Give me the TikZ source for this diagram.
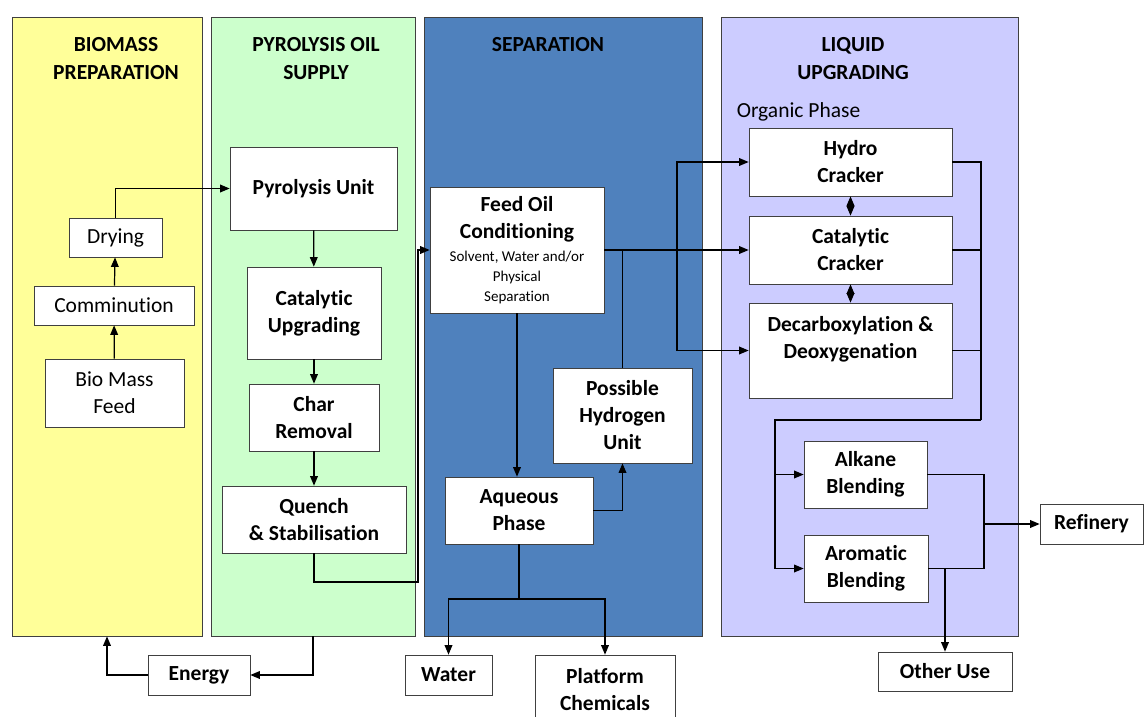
\documentclass[tikz,border=0pt]{standalone}
\usepackage{fontspec}
\setmainfont{Carlito}[Ligatures={NoCommon}]
\usepackage{tikz}
\usetikzlibrary{arrows,positioning}

\definecolor{prepcol}{HTML}{FFFF99}
\definecolor{supplycol}{HTML}{CCFFCC}
\definecolor{sepcol}{HTML}{4F81BD}
\definecolor{upgcol}{HTML}{CCCCFF}
\definecolor{edgecol}{HTML}{404040}

\begin{document}
\begin{tikzpicture}
	[x=1pt,y=-1pt,>=triangle 45,line width=1.2pt,
		panel/.style={draw=edgecol,line width=0.8pt,inner sep=0pt},
		title/.style={font=\fontsize{21.5}{28}\selectfont\bfseries,align=center,inner sep=0pt},
		unit/.style={draw=edgecol,fill=white,line width=0.8pt,align=center,inner sep=0pt,font=\fontsize{21.5}{27}\selectfont\bfseries},
		plain unit/.style={unit,font=\fontsize{21.5}{27}\selectfont}]

	\useasboundingbox (0,0) rectangle (1144,716);

	% stage panels
	\node[panel,fill=prepcol,minimum width=190,minimum height=619]   (prep)   at (107,326.5) {};
	\node[panel,fill=supplycol,minimum width=204,minimum height=619] (supply) at (313,326.5) {};
	\node[panel,fill=sepcol,minimum width=278,minimum height=619]    (sep)    at (563,326.5) {};
	\node[panel,fill=upgcol,minimum width=297,minimum height=619]    (upg)    at (869.5,326.5) {};

	\node[title] (preptitle)   at (116,59)  {BIOMASS\\PREPARATION};
	\node[title] (supplytitle) at (316,59)  {PYROLYSIS OIL\\SUPPLY};
	\node[title] (septitle)    at (548,45)  {SEPARATION};
	\node[title] (upgtitle)    at (853,59)  {LIQUID\\UPGRADING};
	\node[font=\fontsize{21.5}{27}\selectfont,inner sep=0pt] (organic) at (798.5,112) {Organic Phase};

	% biomass preparation
	\node[plain unit,minimum width=93,minimum height=39]  (drying) at (115.5,237.5) {Drying};
	\node[plain unit,minimum width=160,minimum height=39] (commin) at (114,305.5)   {Comminution};
	\node[plain unit,minimum width=139,minimum height=68] (feed)   at (114.5,393)   {Bio Mass\\Feed};

	% pyrolysis oil supply
	\node[unit,minimum width=167,minimum height=83] (pyro)   at (313.5,188.5) {Pyrolysis Unit};
	\node[unit,minimum width=134,minimum height=92] (catup)  at (314,313)     {Catalytic\\Upgrading};
	\node[unit,minimum width=130,minimum height=67] (char)   at (314,417.5)   {Char\\Removal};
	\node[unit,minimum width=184,minimum height=67] (quench) at (314,519.5)   {Quench\\\& Stabilisation};

	% separation
	\node[unit,minimum width=174,minimum height=126] (oilcond) at (517,250)
		{Feed Oil\\Conditioning\\[-4pt]{\fontsize{15}{20}\selectfont\mdseries Solvent, Water and/or}\\[-7pt]{\fontsize{15}{20}\selectfont\mdseries Physical}\\[-7pt]{\fontsize{15}{20}\selectfont\mdseries Separation}};
	\node[unit,minimum width=148,minimum height=67] (aqueous)  at (519,510.5) {Aqueous\\Phase};
	\node[unit,minimum width=139,minimum height=95] (hydrogen) at (622.5,415.5) {Possible\\Hydrogen\\Unit};

	% liquid upgrading
	\node[unit,minimum width=203,minimum height=68] (hydro)    at (850.5,162) {Hydro\\Cracker};
	\node[unit,minimum width=203,minimum height=68] (catcrack) at (850.5,250) {Catalytic\\Cracker};
	\node[unit,minimum width=203,minimum height=95] (decarb)   at (850.5,350.5) {Decarboxylation \&\\Deoxygenation\\\mbox{}};
	\node[unit,minimum width=123,minimum height=67] (alkane)   at (865.5,474.5) {Alkane\\Blending};
	\node[unit,minimum width=124,minimum height=67] (aromatic) at (866,568.5) {Aromatic\\Blending};

	% products
	\node[unit,minimum width=103,minimum height=40] (refinery) at (1091.5,524) {Refinery};
	\node[unit,minimum width=134,minimum height=39] (otheruse) at (945,671.5) {Other Use};
	\node[unit,minimum width=102,minimum height=40] (energy)   at (199,675)   {Energy};
	\node[unit,minimum width=87,minimum height=40]  (water)    at (448.5,675) {Water};
	\node[unit,minimum width=140,minimum height=70] (platform) at (605,690)   {Platform\\Chemicals};

	\coordinate (qturn) at (418,582);
	\coordinate (split) at (519,599);
	\coordinate (fork)  at (677,250);
	\coordinate (rc)    at (981,420);
	\coordinate (lc)    at (775,420);
	\coordinate (bc)    at (984,524);

	\draw[->] (feed) -- (commin);
	\draw[->] (commin) -- (drying);
	\draw[->] (drying.north) |- (pyro.west);
	\draw[->] (pyro) -- (catup);
	\draw[->] (catup) -- (char);
	\draw[->] (char) -- (quench);
	\draw[->] (quench.south) |- (qturn) |- (oilcond.west);

	\draw[->] (oilcond.south) -- (oilcond.south |- aqueous.north);
	\draw[->] (aqueous.east) -| (hydrogen.south);
	\draw (hydrogen.north) -- (hydrogen.north |- oilcond.east);
	\draw (aqueous.south) -- (split);
	\draw[->] (split) -| (water.north);
	\draw[->] (split) -| (platform.north);

	\draw[->] (oilcond.east) -- (catcrack.west);
	\draw[->] (fork) |- (hydro.west);
	\draw[->] (fork) |- (decarb.west);
	\draw[<->] (hydro) -- (catcrack);
	\draw[<->] (catcrack) -- (decarb);

	\draw (hydro.east) -| (rc);
	\draw (catcrack.east) -- (catcrack.east -| rc);
	\draw (decarb.east) -- (decarb.east -| rc);
	\draw (rc) -- (lc) -- (lc |- aromatic.west);
	\draw[->] (lc |- alkane.west) -- (alkane.west);
	\draw[->] (lc |- aromatic.west) -- (aromatic.west);

	\draw (alkane.east) -| (bc);
	\draw (aromatic.east) -| (bc);
	\draw[->] (bc) -- (refinery.west);
	\draw[->] (otheruse.north |- aromatic.east) -- (otheruse.north);

	\draw[->] (supply.south) |- (energy.east);
	\draw[->] (energy.west) -| (prep.south);

\end{tikzpicture}
\end{document}
